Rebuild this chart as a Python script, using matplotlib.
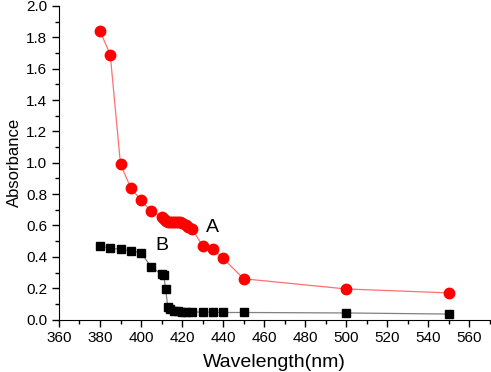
import matplotlib
matplotlib.use('Agg')
import matplotlib.pyplot as plt
from matplotlib.ticker import MultipleLocator

plt.rcParams['font.family'] = ['Liberation Sans', 'DejaVu Sans']

# curva A (rojo)
wl_a = [380, 385, 390, 395, 400, 405, 410, 411, 412, 413, 414, 415, 416, 417,
        418, 419, 420, 422, 423, 425, 430, 435, 440, 450, 500, 550]
abs_a = [1.84, 1.69, 0.99, 0.84, 0.76, 0.69, 0.655, 0.64, 0.63, 0.625, 0.62, 0.62, 0.62, 0.62,
         0.62, 0.62, 0.615, 0.60, 0.59, 0.575, 0.47, 0.45, 0.39, 0.26, 0.195, 0.17]

# curva B (negro)
wl_b = [380, 385, 390, 395, 400, 405, 410, 411, 412, 413, 414, 416, 418, 420,
        422, 425, 430, 435, 440, 450, 500, 550]
abs_b = [0.47, 0.455, 0.448, 0.44, 0.425, 0.335, 0.29, 0.284, 0.196, 0.08, 0.067, 0.057, 0.052, 0.049,
         0.048, 0.048, 0.048, 0.047, 0.045, 0.045, 0.042, 0.035]

fig = plt.figure(figsize=(4.91, 3.72), dpi=100)
ax = fig.add_axes([0.120, 0.141, 0.878, 0.843])

ax.plot(wl_a, abs_a, color='#ff7070', lw=0.9, marker='o', ms=7.5,
        mfc='#ff0000', mec='#ff0000')
ax.plot(wl_b, abs_b, color='#808080', lw=0.9, marker='s', ms=6,
        mfc='black', mec='black')

ax.text(435, 0.59, 'A', fontsize=14, ha='center', va='center')
ax.text(410, 0.47, 'B', fontsize=14, ha='center', va='center')

ax.set_xlim(360, 570)
ax.set_ylim(0, 2.0)
ax.xaxis.set_minor_locator(MultipleLocator(10))
ax.yaxis.set_major_locator(MultipleLocator(0.2))
ax.yaxis.set_minor_locator(MultipleLocator(0.1))
ax.set_xticks(range(360, 561, 20))
ax.yaxis.set_major_formatter(plt.FuncFormatter(lambda v, p: f'{v:.1f}'))

ax.spines['top'].set_visible(False)
ax.spines['right'].set_visible(False)
ax.tick_params(which='major', direction='out', length=5, width=1, labelsize=11)
ax.tick_params(which='minor', direction='out', length=3, width=1)

ax.set_xlabel('Wavelength(nm)', fontsize=14, labelpad=6)
ax.set_ylabel('Absorbance', fontsize=12, labelpad=3)

fig.savefig('out.png', dpi=100)
